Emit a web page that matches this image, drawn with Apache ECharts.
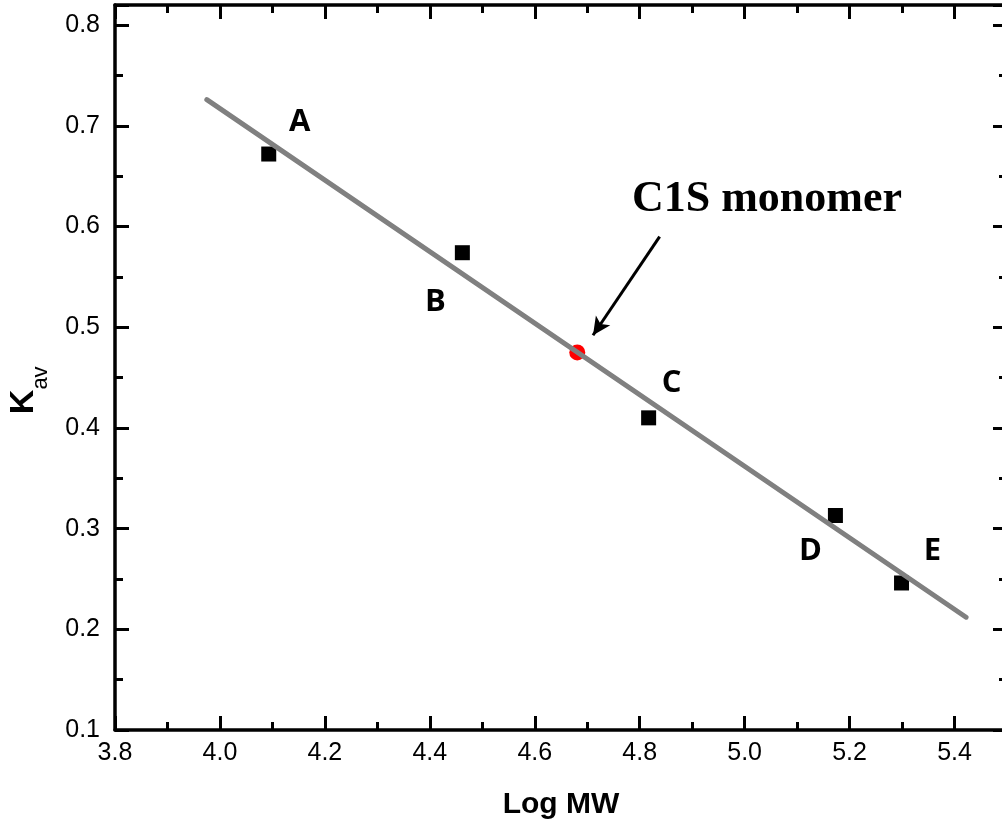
<!DOCTYPE html>
<html>
<head>
<meta charset="utf-8">
<script src="https://cdn.jsdelivr.net/npm/echarts@6/dist/echarts.min.js"></script>
<style>
html, body { margin: 0; padding: 0; background: #fff; }
#chart { width: 1002px; height: 826px; }
</style>
</head>
<body>
<div id="chart"></div>
<script>
// calibration standards
var stdNames = ['A', 'B', 'C', 'D', 'E'];
var stdLogMW = [4.093, 4.462, 4.817, 5.173, 5.299];
var stdKav = [0.672, 0.574, 0.410, 0.313, 0.246];

// sample
var sampleLogMW = [4.681];
var sampleKav = [0.475];

// linear fit, drawn end to end
var fitLogMW = [3.975, 5.422];
var fitKav = [0.726, 0.212];

// axes
var xMin = 3.8, xMax = 5.5, xStep = 0.2;
var yMin = 0.1, yMax = 0.82, yStep = 0.1;

// arrow for the annotation (data coords)
var arrowStart = [4.838, 0.590];
var arrowEnd = [4.711, 0.492];

var labelOffsets = { A: [31, -32], B: [-27, 49], C: [23, -35], D: [-25, 36], E: [31, -32] };

var chart = echarts.init(document.getElementById('chart'));

function axisBase(show) {
	return {
		axisLine: { show: true, onZero: false, lineStyle: { color: '#000', width: 3.5 } },
		axisTick: { show: true, inside: true, length: 14, lineStyle: { color: '#000', width: 3 } },
		minorTick: { show: true, splitNumber: 2, length: 8, lineStyle: { color: '#000', width: 3 } },
		splitLine: { show: false },
		minorSplitLine: { show: false },
		axisLabel: {
			show: show,
			showMaxLabel: false,
			color: '#000',
			fontFamily: 'Liberation Sans',
			fontSize: 25
		}
	};
}

function makeX(position, show) {
	var a = axisBase(show);
	a.type = 'value';
	a.position = position;
	a.min = xMin;
	a.max = xMax;
	a.interval = xStep;
	a.axisLabel.margin = 11;
	a.axisLabel.formatter = function(v) { return v.toFixed(1); };
	return a;
}

function makeY(position, show) {
	var a = axisBase(show);
	a.type = 'value';
	a.position = position;
	a.min = yMin;
	a.max = yMax;
	a.interval = yStep;
	a.axisLabel.margin = 15;
	a.axisLabel.formatter = function(v) { return v.toFixed(1); };
	return a;
}

var stdData = [];
for (var i = 0; i < stdNames.length; i++) {
	stdData.push({
		name: stdNames[i],
		value: [stdLogMW[i], stdKav[i]],
		label: { offset: labelOffsets[stdNames[i]] }
	});
}

var sampleData = [];
for (var j = 0; j < sampleLogMW.length; j++) {
	sampleData.push([sampleLogMW[j], sampleKav[j]]);
}

var fitData = [];
for (var k = 0; k < fitLogMW.length; k++) {
	fitData.push([fitLogMW[k], fitKav[k]]);
}

var option = {
	animation: false,
	backgroundColor: '#fff',
	grid: { left: 115, top: 5, width: 892, height: 725, containLabel: false, outerBoundsMode: 'none' },
	xAxis: [makeX('bottom', true), makeX('top', false)],
	yAxis: [makeY('left', true), makeY('right', false)],
	series: [{
		type: 'scatter',
		symbol: 'rect',
		symbolSize: 15,
		itemStyle: { color: '#000', opacity: 1 },
		label: {
			show: true,
			position: 'inside',
			formatter: '{b}',
			color: '#000',
			fontFamily: 'Open Sans',
			fontWeight: 'bold',
			fontSize: 31
		},
		data: stdData,
		z: 2
	}, {
		type: 'scatter',
		symbol: 'circle',
		symbolSize: 16,
		itemStyle: { color: '#ff0000', opacity: 1 },
		data: sampleData,
		markLine: {
			silent: true,
			symbol: ['none', 'arrow'],
			symbolSize: [13, 18],
			label: { show: false },
			lineStyle: { color: '#000', width: 3, type: 'solid' },
			data: [[{ coord: arrowStart }, { coord: arrowEnd }]]
		},
		z: 2
	}, {
		type: 'line',
		data: fitData,
		showSymbol: false,
		symbol: 'none',
		lineStyle: { color: '#808080', width: 5, cap: 'round' },
		z: 3
	}],
	graphic: [{
		type: 'text',
		x: 767,
		y: 200,
		style: {
			text: 'C1S monomer',
			font: 'bold 44px "Liberation Serif"',
			fill: '#000',
			textAlign: 'center',
			textVerticalAlign: 'middle',
			align: 'center',
			verticalAlign: 'middle'
		}
	}, {
		type: 'text',
		x: 561,
		y: 805,
		style: {
			text: 'Log MW',
			font: 'bold 30px "Liberation Sans"',
			fill: '#000',
			textAlign: 'center',
			textVerticalAlign: 'middle',
			align: 'center',
			verticalAlign: 'middle'
		}
	}, {
		type: 'text',
		x: 24,
		y: 402,
		rotation: Math.PI / 2,
		style: {
			text: 'K',
			font: 'bold 34px "Liberation Sans"',
			fill: '#000',
			textAlign: 'center',
			textVerticalAlign: 'middle',
			align: 'center',
			verticalAlign: 'middle'
		}
	}, {
		type: 'text',
		x: 41,
		y: 378,
		rotation: Math.PI / 2,
		style: {
			text: 'av',
			font: '22px "Liberation Sans"',
			fill: '#000',
			textAlign: 'center',
			textVerticalAlign: 'middle',
			align: 'center',
			verticalAlign: 'middle'
		}
	}]
};

chart.setOption(option);
</script>
</body>
</html>
